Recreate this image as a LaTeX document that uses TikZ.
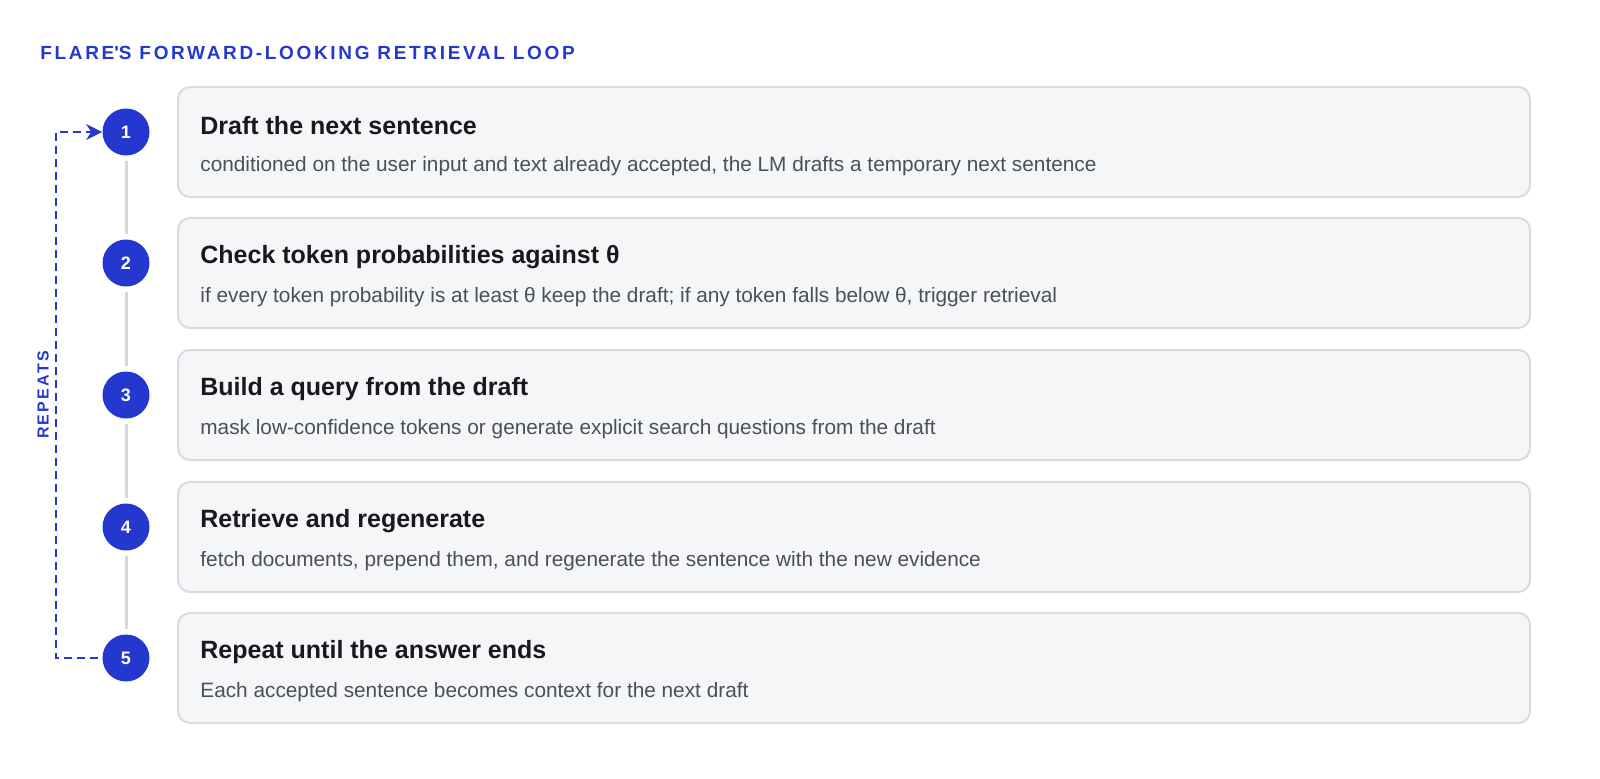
\documentclass[tikz,border=0pt]{standalone}
\usepackage{fontspec}
\setmainfont{Liberation Sans}
\newfontfamily\spacedfont[LetterSpace=14]{Liberation Sans}
\usetikzlibrary{arrows.meta}
\definecolor{flareblue}{HTML}{2438CF}
\definecolor{boxfill}{HTML}{F5F6F8}
\definecolor{boxline}{HTML}{D9DBE3}
\definecolor{railgray}{HTML}{D6D8E0}
\definecolor{headink}{HTML}{17191E}
\definecolor{subink}{HTML}{4A4F5C}

\begin{document}
\begin{tikzpicture}[x=0.5pt,y=-0.5pt]
\tikzstyle{stepbox}=[draw=boxline,line width=1pt,fill=boxfill,rounded corners=6pt,minimum width=676pt,minimum height=55pt,anchor=north west]
\tikzstyle{badge}=[circle,fill=flareblue,text=white,font=\bfseries\fontsize{9}{10}\selectfont,minimum size=23.5pt,inner sep=0pt]
\tikzstyle{stephead}=[anchor=west,text=headink,font=\bfseries\fontsize{12.5}{14}\selectfont,inner sep=0pt]
\tikzstyle{stepsub}=[anchor=west,text=subink,font=\fontsize{10.4}{12}\selectfont,inner sep=0pt]
\tikzstyle{rail}=[draw=railgray,line width=1.5pt,shorten <=2.5pt,shorten >=2.5pt]
\tikzstyle{loopline}=[draw=flareblue,line width=1.2pt,dash pattern=on 4pt off 2.5pt]

\useasboundingbox (0,0) rectangle (1600,778);

\node[anchor=west,inner sep=0pt,text=flareblue,font=\spacedfont\bfseries\fontsize{9.5}{11}\selectfont] (title) at (40,53) {FLARE\textquotesingle S FORWARD-LOOKING RETRIEVAL LOOP};

\foreach \n/\y/\headtxt/\subtxt in {
  1/86/Draft the next sentence/{conditioned on the user input and text already accepted, the LM drafts a temporary next sentence},
  2/217/Check token probabilities against θ/{if every token probability is at least θ keep the draft; if any token falls below θ, trigger retrieval},
  3/349/Build a query from the draft/{mask low-confidence tokens or generate explicit search questions from the draft},
  4/481/Retrieve and regenerate/{fetch documents, prepend them, and regenerate the sentence with the new evidence},
  5/612/Repeat until the answer ends/{Each accepted sentence becomes context for the next draft}}
{
  \node[stepbox] (box\n) at (177,\y) {};
  \node[badge] (c\n) at (126,\y+46) {\n};
  \node[stephead] (head\n) at (200,\y+40) {\headtxt};
  \node[stepsub] (sub\n) at (200,\y+80) {\subtxt};
}

\foreach \a/\b in {1/2,2/3,3/4,4/5}
  \draw[rail] (c\a) -- (c\b);

% loop back from the last step to the first
\draw[loopline,shorten <=2pt,-{Stealth[length=8pt,width=8pt]}] (c5.west) -- ++(-46,0) |- (c1.west);
\node[rotate=90,inner sep=0pt,text=flareblue,font=\spacedfont\bfseries\fontsize{8}{9}\selectfont] (repeats) at (43,395) {REPEATS};

\end{tikzpicture}
\end{document}
